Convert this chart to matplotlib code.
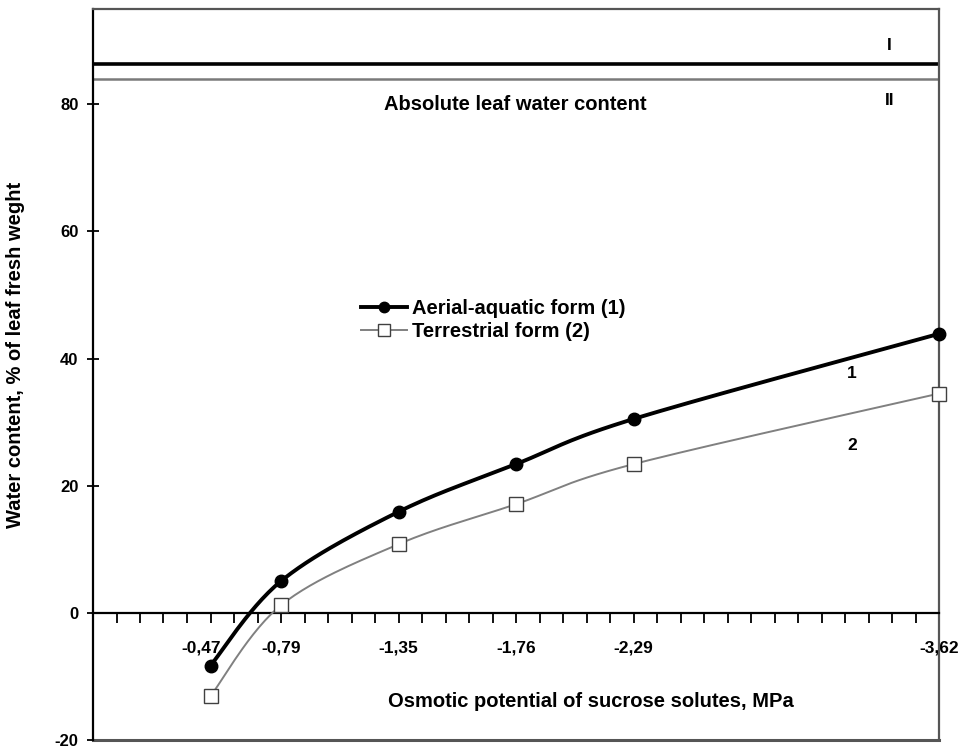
import numpy as np
import matplotlib
matplotlib.use("Agg")
import matplotlib.pyplot as plt
import matplotlib.transforms as mtransforms
from matplotlib.ticker import MultipleLocator, FixedLocator, NullFormatter

plt.rcParams['font.family'] = ['Liberation Sans', 'DejaVu Sans']

# ---- data ----
x_labels = ["-0,47", "-0,79", "-1,35", "-1,76", "-2,29", "-3,62"]
x_pos = [-0.5, -0.8, -1.3, -1.8, -2.3, -3.6]          # position along the osmotic-potential axis
aerial = [-8.3, 5.0, 15.9, 23.4, 30.5, 43.9]          # Aerial-aquatic form (1)
terrestrial = [-13.1, 1.2, 10.8, 17.1, 23.4, 34.5]    # Terrestrial form (2)
abs_I = 86.4    # absolute leaf water content, form I
abs_II = 84.0   # absolute leaf water content, form II
y_ticks = [-20, 0, 20, 40, 60, 80]

FS = 14.5
fig = plt.figure(figsize=(9.68, 7.51), dpi=100)
ax = fig.add_axes([93/968, 1-740/751, (939-93)/968, (740-9)/751])
ax.set_xlim(0, -3.6)
ax.set_ylim(-20, 95)


def smooth(xs, ys, n=30):
    pts = ax.transData.transform(np.column_stack([xs, ys]))
    P = np.vstack([pts[0], pts, pts[-1]])
    out = []
    for i in range(1, len(P) - 2):
        p0, p1, p2, p3 = P[i-1], P[i], P[i+1], P[i+2]
        c1 = p1 + (p2 - p0) / 6.0
        c2 = p2 - (p3 - p1) / 6.0
        t = np.linspace(0, 1, n)[:, None]
        seg = (1-t)**3*p1 + 3*(1-t)**2*t*c1 + 3*(1-t)*t**2*c2 + t**3*p2
        out.append(seg if i == 1 else seg[1:])
    out = np.vstack(out)
    d = ax.transData.inverted().transform(out)
    return d[:, 0], d[:, 1]

sx, sy = smooth(x_pos, aerial)
ax.plot(sx, sy, color='black', lw=2.8, solid_capstyle='round', clip_on=False, zorder=4)
ax.plot(x_pos, aerial, 'o', color='black', ms=9, clip_on=False, zorder=5)
tx, ty = smooth(x_pos, terrestrial)
ax.plot(tx, ty, color='#808080', lw=1.4, clip_on=False, zorder=3)
ax.plot(x_pos, terrestrial, 's', mfc='white', mec='#404040', mew=1.0, ms=9.5, clip_on=False, zorder=5)

# legend proxies
h1, = ax.plot([], [], '-o', color='black', lw=2.8, ms=7.5)
h2, = ax.plot([], [], '-s', color='#808080', lw=1.4, mfc='white', mec='#404040', ms=8)
leg = ax.legend([h1, h2], ["Aerial-aquatic form (1)", "Terrestrial form (2)"],
                loc='upper left', bbox_to_anchor=((361-93)/846, 1-(299-9)/731),
                frameon=False, prop={'size': FS, 'weight': 'bold'}, handlelength=2.3,
                handletextpad=0.25, labelspacing=0.2, borderaxespad=0, borderpad=0)

# absolute water content lines
ax.axhline(abs_I, color='black', lw=2.6)
ax.axhline(abs_II, color='#7a7a7a', lw=1.8)
ax.text(-1.795, 80, "Absolute leaf water content", ha='center', va='center',
        fontsize=FS, fontweight='bold')
ax.text(-3.39, 89.2, "I", ha='center', va='center', fontsize=12.5, fontweight='bold')
ax.text(-3.39, 80.6, "II", ha='center', va='center', fontsize=12.5, fontweight='bold')
ax.text(-3.23, 37.7, "1", ha='center', va='center', fontsize=12.5, fontweight='bold')
ax.text(-3.23, 26.3, "2", ha='center', va='center', fontsize=12.5, fontweight='bold')

# axes styling
ax.spines['bottom'].set_position(('data', 0))
for s in ['left', 'right', 'top', 'bottom']:
    ax.spines[s].set_linewidth(1.6)
ax.spines['top'].set_color('#555555')
ax.spines['right'].set_color('#555555')
ax.axhline(-20, color='#555555', lw=2.2, clip_on=False)

ax.xaxis.set_major_locator(FixedLocator(x_pos))
ax.set_xticklabels(x_labels, fontsize=12.5, fontweight='bold')
ax.xaxis.set_minor_locator(MultipleLocator(0.1))
ax.xaxis.set_minor_formatter(NullFormatter())
ax.tick_params(axis='x', which='both', direction='out', length=7, width=1.3, pad=13)
first = ax.get_xticklabels()[0]
first.set_transform(first.get_transform() + mtransforms.ScaledTranslation(-9/100, 0, fig.dpi_scale_trans))

ax.set_yticks(y_ticks)
ax.set_yticklabels([str(v) for v in y_ticks], fontsize=12, fontweight='bold')
ax.tick_params(axis='y', direction='inout', length=9, width=1.3, pad=6)

ax.text(-2.12, -13.9, "Osmotic potential of sucrose solutes, MPa", ha='center', va='center',
        fontsize=FS, fontweight='bold')
fig.text(16/968, 1-355/751, "Water content, % of leaf fresh weght", rotation=90,
         ha='center', va='center', fontsize=FS, fontweight='bold')

fig.savefig("out.png", dpi=100)
